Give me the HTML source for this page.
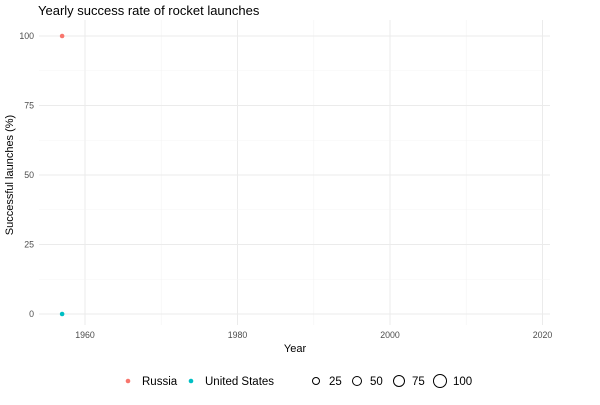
<!DOCTYPE html>
<html><head><meta charset="utf-8"><style>
body{margin:0;background:#fff;font-family:"Liberation Sans",sans-serif}
</style></head><body>
<svg id="c" width="600" height="400" xmlns="http://www.w3.org/2000/svg" font-family="Liberation Sans, sans-serif">
<text x="38" y="15" font-size="13" fill="#000">Yearly success rate of rocket launches</text>
<g id="grid"></g><g id="marks"></g><g id="axes"></g>
<text x="295" y="352" font-size="11" text-anchor="middle">Year</text>
<text transform="translate(13,175) rotate(-90)" font-size="11" text-anchor="middle">Successful launches (%)</text>
<g id="legend" font-size="11.5"></g>
</svg>
<script>
const countries=["Russia","United States"];
const colors=["#F8766D","#00BFC4"];
const years=[1957,1957];
const rates=[100,0];
const xTicks=[1960,1980,2000,2020];
const yTicks=[0,25,50,75,100];
const sizeLabels=[25,50,75,100];
const ns="http://www.w3.org/2000/svg";
const X=v=>85+(v-1960)*7.625, Y=v=>314-v*2.78;
function mk(t,a,p){const e=document.createElementNS(ns,t);for(const k in a)e.setAttribute(k,a[k]);p.appendChild(e);return e;}
const g=document.getElementById('grid'),ax=document.getElementById('axes'),m=document.getElementById('marks'),lg=document.getElementById('legend');
for(let i=0;i<xTicks.length;i++){const v=xTicks[i];
 const l=mk('line',{x1:X(v),x2:X(v),y1:20,y2:325,stroke:'#ebebeb','stroke-width':1},g);
 
 if(i<xTicks.length-1){const n=mk('line',{x1:X(v+10),x2:X(v+10),y1:20,y2:325,stroke:'#f4f4f4','stroke-width':0.6},g);}
 const t=mk('text',{x:X(v),y:338,'font-size':8.8,fill:'#4d4d4d','text-anchor':'middle'},ax);t.textContent=v;
 }
for(let i=0;i<yTicks.length;i++){const v=yTicks[i];
 const l=mk('line',{x1:39,x2:550,y1:Y(v),y2:Y(v),stroke:'#ebebeb','stroke-width':1},g);
 
 if(i<yTicks.length-1){const n=mk('line',{x1:39,x2:550,y1:Y(v+12.5),y2:Y(v+12.5),stroke:'#f4f4f4','stroke-width':0.6},g);}
 const t=mk('text',{x:34,y:Y(v)+3,'font-size':8.8,fill:'#4d4d4d','text-anchor':'end'},ax);t.textContent=v;
 }
for(let i=0;i<countries.length;i++){
 const c=mk('circle',{cx:X(years[i]),cy:Y(rates[i]),r:2.3,fill:colors[i]},m);
 }
const lx=[128,191];
for(let i=0;i<countries.length;i++){
 const c=mk('circle',{cx:lx[i],cy:381,r:2.3,fill:colors[i]},lg);
 const t=mk('text',{x:lx[i]+14,y:385},lg);t.textContent=countries[i];}
const sx=[316,357,399,440],sr=[3.5,4.5,5.5,6.5];
for(let i=0;i<sizeLabels.length;i++){
 const c=mk('circle',{cx:sx[i],cy:381,r:sr[i],fill:'none',stroke:'#000','stroke-width':1},lg);
 const t=mk('text',{x:sx[i]+13,y:385},lg);t.textContent=sizeLabels[i];}
</script>
</body></html>
